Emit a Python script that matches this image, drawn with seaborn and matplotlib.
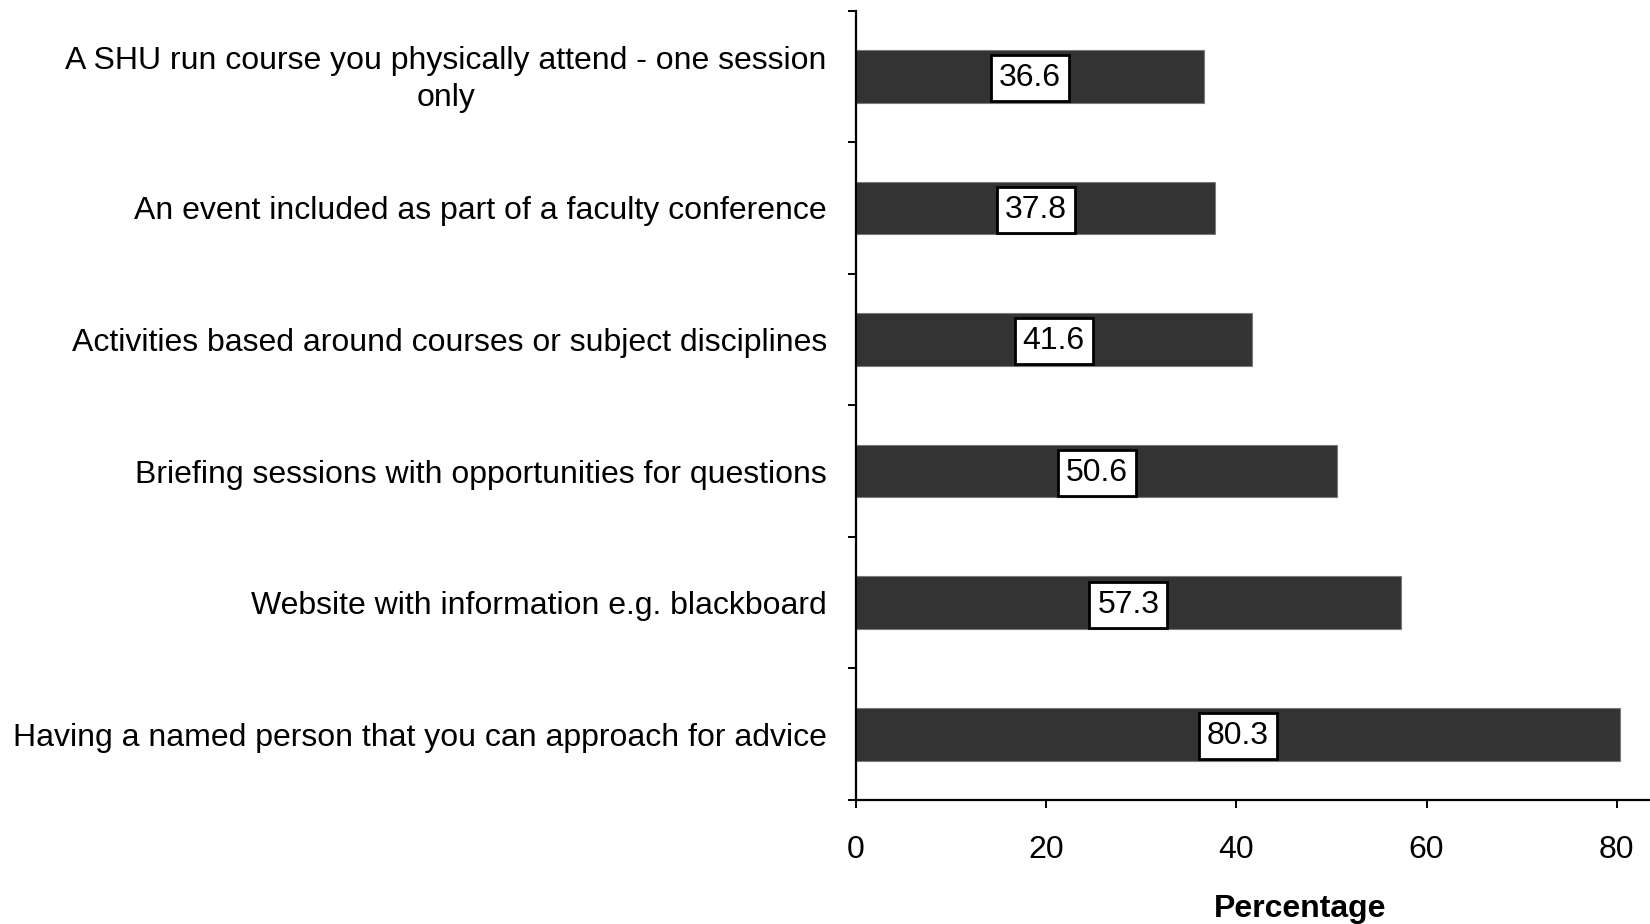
import matplotlib
matplotlib.use("Agg")
import matplotlib.pyplot as plt
import matplotlib.transforms as mtransforms
import seaborn as sns
import pandas as pd
from matplotlib.ticker import FixedLocator

categories = [
    "A SHU run course you physically attend - one session\nonly",
    "An event included as part of a faculty conference",
    "Activities based around courses or subject disciplines",
    "Briefing sessions with opportunities for questions",
    "Website with information e.g. blackboard",
    "Having a named person that you can approach for advice",
]
percentages = [36.6, 37.8, 41.6, 50.6, 57.3, 80.3]
x_ticks = [0, 20, 40, 60, 80]

sns.set_style("white")
plt.rcParams["font.family"] = ["Liberation Sans", "DejaVu Sans"]
plt.rcParams["text.color"] = "black"
plt.rcParams["xtick.color"] = "black"
plt.rcParams["ytick.color"] = "black"
plt.rcParams["axes.labelcolor"] = "black"

df = pd.DataFrame({"item": categories, "pct": percentages})

fig = plt.figure(figsize=(16.5, 9.24), dpi=100)
ax = fig.add_axes([0.5188, 0.1342, 0.4812, 0.8544])

sns.barplot(data=df, y="item", x="pct", order=categories, orient="h",
            color="#333333", width=0.4, edgecolor="#7a7a7a", linewidth=0.8,
            saturation=1, ax=ax)

ax.set_xlim(0, 83.5)
ax.set_ylim(len(categories) - 0.5, -0.5)

for i, v in enumerate(percentages):
    ax.text(v / 2, i + 0.015, f"{v:.1f}", ha="center", va="center", fontsize=23,
            color="black",
            bbox=dict(boxstyle="square,pad=0.25", facecolor="white",
                      edgecolor="black", linewidth=2))

for side in ["top", "right"]:
    ax.spines[side].set_visible(False)
for side in ["left", "bottom"]:
    ax.spines[side].set_linewidth(1.6)
    ax.spines[side].set_color("black")

ax.set_xticks(x_ticks)
ax.set_xticklabels([str(t) for t in x_ticks], fontsize=23)
ax.tick_params(axis="x", direction="out", length=6, width=1.4, pad=19.5,
               bottom=True)

ax.set_yticks(range(len(categories)))
ax.set_yticklabels(categories, fontsize=23, multialignment="center",
                   linespacing=1.3)
ax.tick_params(axis="y", which="major", length=0, pad=21)
ax.yaxis.set_minor_locator(FixedLocator([i - 0.5 for i in range(len(categories) + 1)]))
ax.tick_params(axis="y", which="minor", direction="out", length=6, width=1.4,
               left=True)

# nudge the wrapped two-line label so it sits centred on its bar
first = ax.get_yticklabels()[0]
first.set_transform(first.get_transform()
                    + mtransforms.ScaledTranslation(0, 4 / 100, fig.dpi_scale_trans))

ax.set_ylabel("")
ax.set_xlabel("Percentage", fontsize=23, fontweight="bold")
ax.xaxis.set_label_coords(0.559, -0.119)

fig.savefig("out.png", dpi=100)
